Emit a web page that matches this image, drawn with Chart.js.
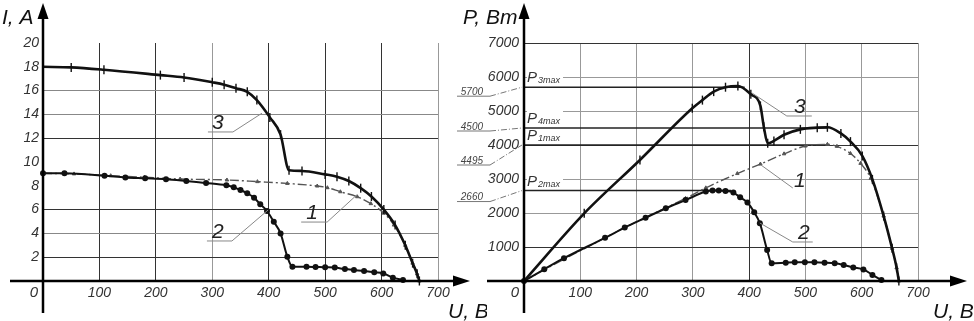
<!DOCTYPE html>
<html><head><meta charset="utf-8">
<script src="https://cdn.jsdelivr.net/npm/chart.js@4"></script>
<style>
html,body{margin:0;padding:0;background:#fff;width:974px;height:321px;overflow:hidden}
canvas{position:absolute;top:0}
#cI{left:0}
#cP{left:440px}
</style></head><body>
<canvas id="cI" width="487" height="321"></canvas>
<canvas id="cP" width="534" height="321"></canvas>
<script>
// ---------- data ----------
const voltageMax = 700, voltageStep = 100;
const currentMax = 20, currentStep = 2;
const powerMax = 7000, powerStep = 1000;
const currentGridLines = [2, 4, 6, 12, 14, 16];

// I-V curves (U in V, I in A)
const ivU1 = [0, 55, 120, 180, 243, 326, 380, 433, 486, 504, 527, 557, 581, 604, 622, 642, 655, 663, 667];
const ivI1 = [9.05, 9.0, 8.85, 8.72, 8.57, 8.49, 8.35, 8.2, 7.98, 7.84, 7.5, 7.08, 6.5, 5.7, 4.7, 3.0, 1.5, 0.6, 0];

const ivU2 = [0, 38, 109, 146, 181, 218, 254, 289, 325, 338, 350, 362, 374, 385, 397, 409, 421, 433, 442, 467, 483, 500, 517, 535, 551, 569, 587, 603, 620, 638];
const ivI2 = [9.05, 9.05, 8.85, 8.7, 8.63, 8.55, 8.4, 8.24, 8.04, 7.87, 7.65, 7.37, 7.0, 6.45, 5.88, 4.98, 4.0, 2.04, 1.2, 1.2, 1.18, 1.15, 1.13, 1.0, 0.92, 0.84, 0.73, 0.64, 0.28, 0.08];

const ivU3 = [0, 50, 108, 208, 250, 300, 321, 342, 362, 379, 402, 421, 436, 459, 500, 521, 542, 563, 582, 604, 624, 642, 655, 663, 667];
const ivI3 = [18, 17.95, 17.75, 17.3, 17.1, 16.7, 16.5, 16.2, 15.9, 15.2, 13.75, 12.3, 9.3, 9.25, 8.96, 8.77, 8.4, 7.8, 7.1, 6.0, 4.7, 3.0, 1.5, 0.6, 0];

// P-V curves (U in V, P in W)
const pvU1 = [0, 36, 71, 144, 179, 216, 252, 287, 323, 379, 420, 462, 500, 539, 556, 580, 598, 616, 639, 654, 662, 666];
const pvP1 = [0, 330, 640, 1270, 1570, 1870, 2150, 2430, 2740, 3160, 3440, 3740, 3970, 4020, 3960, 3750, 3460, 3020, 1910, 960, 390, 0];

const pvU2 = [0, 36, 71, 144, 179, 216, 252, 287, 323, 335, 346, 358, 372, 384, 397, 409, 419, 432, 440, 465, 481, 499, 516, 534, 552, 568, 585, 603, 619, 635];
const pvP2 = [0, 345, 670, 1270, 1570, 1860, 2140, 2380, 2630, 2660, 2660, 2650, 2600, 2460, 2310, 2020, 1700, 910, 520, 540, 550, 550, 550, 540, 520, 470, 400, 340, 180, 30];

const pvU3 = [0, 107, 206, 299, 317, 337, 358, 380, 403, 420, 426, 433, 444, 462, 491, 521, 539, 563, 580, 601, 619, 639, 654, 662, 666];
const pvP3 = [0, 1990, 3560, 5080, 5320, 5570, 5700, 5735, 5490, 5150, 4540, 4050, 4120, 4300, 4460, 4510, 4520, 4340, 4100, 3680, 2990, 1910, 960, 390, 0];

// maximum-power reference levels
const pmaxLevels = [5700, 4500, 4000, 2660];
const pmaxEndU = [392, 540, 540, 368];
const pmaxValueText = ['5700', '4500', '4495', '2660'];
const pmaxSubText = ['3max', '4max', '1max', '2max'];

// axis titles
const titleI = 'I, А', titleU = 'U, В', titleP = 'P, Вт';

// ---------- helpers ----------
const FAM = "'Liberation Sans',Arimo,sans-serif";
const fnt = s => `italic ${s}px ${FAM}`;
const pts = (xs, ys) => xs.map((x, i) => ({x, y: ys[i]}));

function curve1(data) {
  return {data, borderColor: '#555', borderWidth: 1.4, borderDash: [9, 3, 2, 3],
    pointStyle: 'triangle', pointRadius: 2, pointBackgroundColor: '#555', pointBorderColor: '#555', pointBorderWidth: 1,
    cubicInterpolationMode: 'monotone', order: 3};
}
function curve2(data) {
  return {data, borderColor: '#111', borderWidth: 2, pointStyle: 'circle', pointRadius: 3,
    pointBackgroundColor: '#111', pointBorderColor: '#111', pointBorderWidth: 0,
    cubicInterpolationMode: 'monotone', order: 2};
}
function curve3(data) {
  return {data, borderColor: '#111', borderWidth: 2.6, pointStyle: 'line', pointRotation: 90,
    pointRadius: c => c.dataIndex === 0 ? 0 : 4.5, pointBorderColor: '#111', pointBorderWidth: 1.4,
    cubicInterpolationMode: 'monotone', order: 1};
}

function drawAxes(chart, cfg) {
  const {ctx, scales: {x, y}} = chart;
  const x0 = x.getPixelForValue(0), y0 = y.getPixelForValue(0);
  ctx.save();
  ctx.strokeStyle = '#000'; ctx.fillStyle = '#000'; ctx.lineWidth = 2.5; ctx.setLineDash([]);
  ctx.beginPath(); ctx.moveTo(x0, 313); ctx.lineTo(x0, 16); ctx.stroke();
  ctx.beginPath(); ctx.moveTo(x0 - cfg.back, y0); ctx.lineTo(x0 + cfg.len - 14, y0); ctx.stroke();
  ctx.beginPath(); ctx.moveTo(x0, 3); ctx.lineTo(x0 - 5.5, 19); ctx.lineTo(x0 + 5.5, 19); ctx.closePath(); ctx.fill();
  const tip = x0 + cfg.len;
  ctx.beginPath(); ctx.moveTo(tip, y0); ctx.lineTo(tip - 17, y0 - 5.5); ctx.lineTo(tip - 17, y0 + 5.5); ctx.closePath(); ctx.fill();
  // origin label
  ctx.font = fnt(15); ctx.fillStyle = '#333'; ctx.textAlign = 'center'; ctx.textBaseline = 'top';
  ctx.fillText('0', x0 - 9, y0 + 4);
  // titles
  ctx.font = fnt(21); ctx.textAlign = 'left'; ctx.textBaseline = 'alphabetic'; ctx.fillStyle = '#111';
  ctx.fillText(cfg.yTitle, x0 + cfg.yTitleDx, 24);
  ctx.fillText(titleU, x0 + cfg.uTitleDx, 318);
  ctx.restore();
}

function drawTags(chart, tags) {
  const {ctx, scales: {x, y}} = chart;
  ctx.save();
  tags.forEach(g => {
    const tx = x.getPixelForValue(g.u), ty = y.getPixelForValue(g.v);
    const ax = x.getPixelForValue(g.au), ay = y.getPixelForValue(g.av);
    ctx.font = fnt(21); ctx.fillStyle = '#222'; ctx.textAlign = 'center'; ctx.textBaseline = 'middle';
    ctx.fillText(g.t, tx, ty);
    ctx.strokeStyle = '#888'; ctx.lineWidth = 1;
    let sx, sy;
    if (g.ul) {
      ctx.beginPath(); ctx.moveTo(tx + g.ul[0], ty + 9); ctx.lineTo(tx + g.ul[1], ty + 9); ctx.stroke();
      sx = tx + (g.side === 'left' ? g.ul[0] : g.ul[1]); sy = ty + 9;
    } else { sx = tx - 7; sy = ty + 7; }
    ctx.beginPath(); ctx.moveTo(sx, sy); ctx.lineTo(ax, ay); ctx.stroke();
  });
  ctx.restore();
}

const tickFont = {family: FAM, size: 14, style: 'italic'};

// ---------- I-V chart ----------
const tagsI = [
  {t: '3', u: 310, v: 13.28, au: 388, av: 14.1, ul: [-10, 15], side: 'right'},
  {t: '2', u: 310, v: 4.12, au: 399, av: 5.97, ul: [-11, 14], side: 'right'},
  {t: '1', u: 477, v: 5.71, au: 556, av: 7.23, ul: [-11, 15], side: 'right'}
];
const darkV_I = [100, 200, 400, 500, 600];
const darkH_I = [2, 6, 12];

new Chart(document.getElementById('cI'), {
  type: 'line',
  data: {datasets: [curve1(pts(ivU1, ivI1)), curve2(pts(ivU2, ivI2)), curve3(pts(ivU3, ivI3))]},
  options: {
    responsive: false, animation: false, devicePixelRatio: 1, clip: false,
    layout: {padding: {top: 43, right: 49, left: 0, bottom: 0}},
    plugins: {legend: {display: false}, tooltip: {enabled: false}},
    scales: {
      x: {type: 'linear', min: 0, max: voltageMax,
        ticks: {stepSize: voltageStep, color: '#333', font: tickFont, padding: 4, maxRotation: 0,
          callback: v => v === 0 ? '' : String(v)},
        grid: {drawTicks: false, lineWidth: 1,
          color: c => c.tick.value === 0 ? 'rgba(0,0,0,0)' : (darkV_I.includes(c.tick.value) ? '#333' : '#999')},
        border: {display: false},
        afterFit: s => { s.height = 40; }},
      y: {type: 'linear', min: 0, max: currentMax,
        ticks: {stepSize: currentStep, color: '#333', font: tickFont, padding: 4,
          callback: v => v === 0 ? '' : String(v)},
        grid: {drawTicks: false, lineWidth: 1,
          color: c => currentGridLines.includes(c.tick.value) ? (darkH_I.includes(c.tick.value) ? '#333' : '#888') : 'rgba(0,0,0,0)'},
        border: {display: false},
        afterFit: s => { s.width = 43; }}
    }
  },
  plugins: [{
    id: 'decorI',
    afterDatasetsDraw(chart) {
      drawTags(chart, tagsI);
      drawAxes(chart, {back: 33, len: 427, yTitle: titleI, yTitleDx: -41, uTitleDx: 405});
    }
  }]
});

// ---------- P-V chart ----------
const tagsP = [
  {t: '3', u: 490, v: 5118, au: 405, av: 5530, ul: [-13, 12], side: 'left'},
  {t: '1', u: 490, v: 2941, au: 421, av: 3412, ul: null},
  {t: '2', u: 497, v: 1412, au: 419, av: 1706, ul: [-11, 9], side: 'left'}
];
const darkV_P = [400];
const darkH_P = [7000, 4000, 1000];
const valueUnderDy = [9, 3, 20, 11];
const pLabelDy = [-5, -5, -5, -5];

const refSets = pmaxLevels.map((p, i) => ({
  data: [{x: 0, y: p}, {x: pmaxEndU[i], y: p}], borderColor: '#222', borderWidth: 1.5,
  pointRadius: 0, order: 4
}));

new Chart(document.getElementById('cP'), {
  type: 'line',
  data: {datasets: [...refSets, curve1(pts(pvU1, pvP1)), curve2(pts(pvU2, pvP2)), curve3(pts(pvU3, pvP3))]},
  options: {
    responsive: false, animation: false, devicePixelRatio: 1, clip: false,
    layout: {padding: {top: 43, right: 56, left: 0, bottom: 0}},
    plugins: {legend: {display: false}, tooltip: {enabled: false}},
    scales: {
      x: {type: 'linear', min: 0, max: voltageMax,
        ticks: {stepSize: voltageStep, color: '#333', font: tickFont, padding: 4, maxRotation: 0,
          callback: v => v === 0 ? '' : String(v)},
        grid: {drawTicks: false, lineWidth: 1,
          color: c => c.tick.value === 0 ? 'rgba(0,0,0,0)' : (darkV_P.includes(c.tick.value) ? '#333' : '#999')},
        border: {display: false},
        afterFit: s => { s.height = 40; }},
      y: {type: 'linear', min: 0, max: powerMax,
        ticks: {stepSize: powerStep, color: '#333', font: tickFont, padding: 5,
          callback: v => v === 0 ? '' : String(v)},
        grid: {drawTicks: false, lineWidth: 1,
          color: c => c.tick.value === 0 ? 'rgba(0,0,0,0)' : (darkH_P.includes(c.tick.value) ? '#333' : '#999')},
        border: {display: false},
        afterFit: s => { s.width = 84; }}
    }
  },
  plugins: [{
    id: 'decorP',
    beforeDatasetsDraw(chart) {
      const {ctx, scales: {x, y}} = chart;
      const x0 = x.getPixelForValue(0);
      ctx.save();
      pmaxLevels.forEach((p, i) => {
        const ly = y.getPixelForValue(p);
        // P_nmax label right of the axis
        const bx = x0 + 3, by = ly + pLabelDy[i];
        ctx.font = fnt(15);
        const wP = ctx.measureText('P').width;
        ctx.font = fnt(9);
        const wS = ctx.measureText(pmaxSubText[i]).width;
        ctx.fillStyle = '#fff';
        ctx.fillRect(bx, by - 12, wP + wS + 4, 14);
        ctx.fillStyle = '#333'; ctx.textAlign = 'left'; ctx.textBaseline = 'alphabetic';
        ctx.font = fnt(15); ctx.fillText('P', bx, by);
        ctx.font = fnt(9); ctx.fillText(pmaxSubText[i], bx + wP + 1, by + 1);
        // value label left of the axis
        const uy = ly + valueUnderDy[i];
        ctx.font = fnt(10); ctx.fillStyle = '#444'; ctx.textAlign = 'right';
        ctx.fillText(pmaxValueText[i], x0 - 41, uy - 1.5);
        ctx.strokeStyle = '#777'; ctx.lineWidth = 1; ctx.setLineDash([]);
        ctx.beginPath(); ctx.moveTo(x0 - 67, uy); ctx.lineTo(x0 - 34, uy); ctx.stroke();
        ctx.setLineDash([6, 2, 1, 2]);
        ctx.beginPath(); ctx.moveTo(x0 - 34, uy); ctx.lineTo(x0 - 2, ly); ctx.stroke();
      });
      ctx.restore();
    },
    afterDatasetsDraw(chart) {
      drawTags(chart, tagsP);
      drawAxes(chart, {back: 37, len: 443, yTitle: titleP, yTitleDx: -61, uTitleDx: 409});
    }
  }]
});
</script>
</body></html>
